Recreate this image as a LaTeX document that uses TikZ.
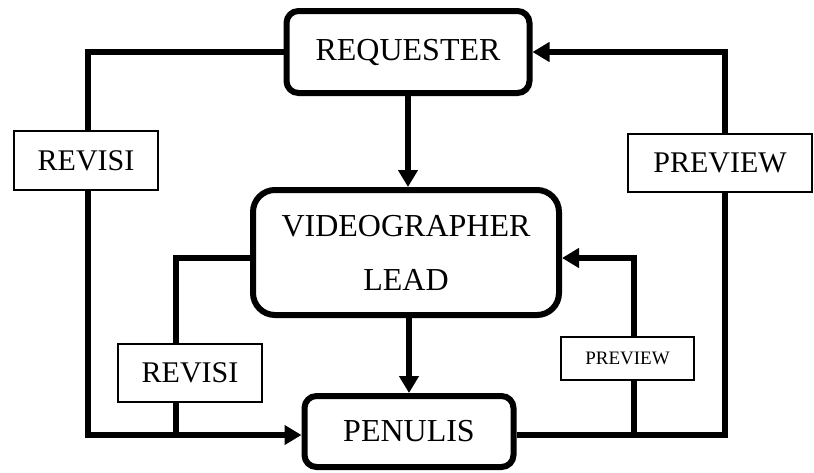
\documentclass[tikz,border=0pt]{standalone}
\usepackage{fontspec}
\setmainfont{Liberation Serif}
\usepackage{tikz}
\usetikzlibrary{arrows.meta, positioning, calc}

\begin{document}
\begin{tikzpicture}[x=0.5pt, y=-0.5pt,
    role/.style={draw=black, line width=3pt, fill=white, rounded corners=6pt, align=center, font=\fontsize{16}{27}\selectfont},
    tag/.style={draw=black, line width=1pt, fill=white, font=\fontsize{15}{18}\selectfont},
    flow/.style={line width=3pt, black},
    flowarrow/.style={flow, -{Triangle[length=8.5pt, width=9.5pt]}}]
    \useasboundingbox (0,0) rectangle (814,472);

    % --- Aktor utama ---
    \node[role, minimum width=121.5pt, minimum height=41pt] (req) at (408,52) {REQUESTER};
    \node[role, rounded corners=11pt, minimum width=153pt, minimum height=62.5pt] (vl) at (406,252.5) {VIDEOGRAPHER\\LEAD};
    \node[role, minimum width=104.5pt, minimum height=35.5pt] (pen) at (409,431.5) {PENULIS};

    % --- Titik belok jalur ---
    \coordinate (lt) at (88,52);
    \coordinate (lb) at (88,435);
    \coordinate (ml) at (176,258);
    \coordinate (mb) at (176,435);
    \coordinate (rt) at (725,52);
    \coordinate (rb) at (725,435);
    \coordinate (mrt) at (634,258);
    \coordinate (mrb) at (634,435);

    % --- Alur utama ---
    \draw[flowarrow] (req.south) -- (req.south |- vl.north);
    \draw[flowarrow] (vl.south -| pen.north) -- (pen.north);

    % --- Jalur revisi (kiri) ---
    \draw[flowarrow] (req.west) -- (lt) -- (lb) -- (lb -| pen.west);
    \draw[flow] (ml -| vl.west) -- (ml) -- (mb);

    % --- Jalur preview (kanan) ---
    \draw[flowarrow] (rb -| pen.east) -- (rb) -- (rt) -- (rt -| req.east);
    \draw[flowarrow] (mrb) -- (mrt) -- (mrt -| vl.east);

    % --- Label jalur ---
    \node[tag, minimum width=72pt, minimum height=29.5pt] (revisiA) at (86,160.5) {REVISI};
    \node[tag, minimum width=92pt, minimum height=29pt] (previewA) at (720,163) {PREVIEW};
    \node[tag, minimum width=72pt, minimum height=29pt] (revisiB) at (190,373) {REVISI};
    \node[tag, minimum width=66.5pt, minimum height=21.5pt, font=\fontsize{9.5}{11}\selectfont] (previewB) at (627.5,358.5) {PREVIEW};
\end{tikzpicture}
\end{document}
